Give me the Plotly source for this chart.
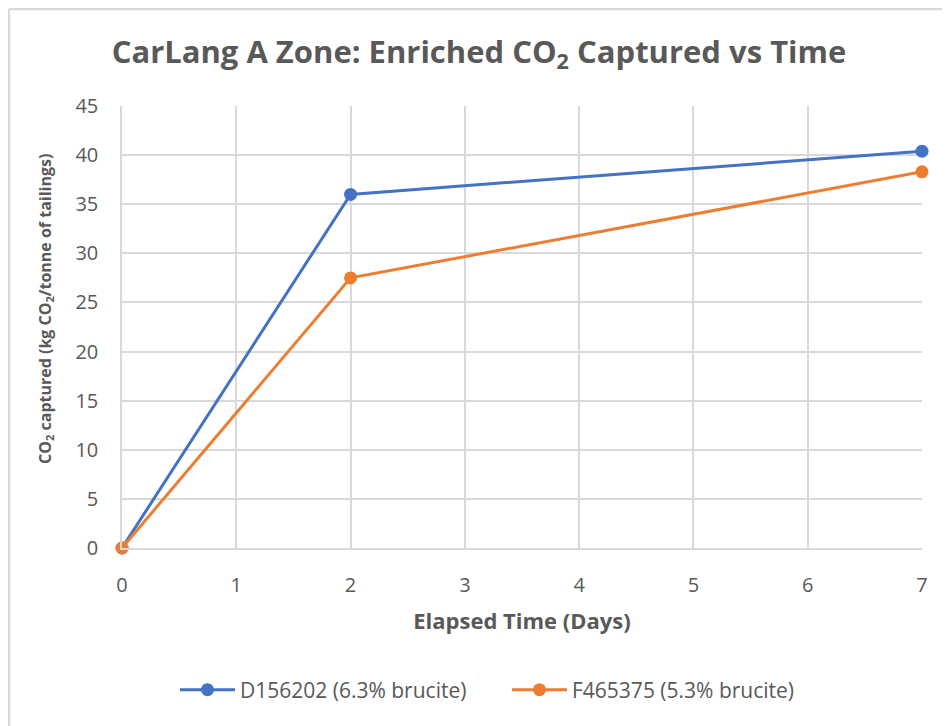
import plotly.graph_objects as go

days = [0, 2, 7]
d156202 = [0, 36.0, 40.4]
f465375 = [0, 27.5, 38.3]
series_names = ["D156202 (6.3% brucite)", "F465375 (5.3% brucite)"]
x_ticks = [0, 1, 2, 3, 4, 5, 6, 7]
y_ticks = [0, 5, 10, 15, 20, 25, 30, 35, 40, 45]

FONT = "Open Sans"
GREY = "#595959"
GRID = "#D9D9D9"

fig = go.Figure()
fig.add_trace(go.Scatter(x=days, y=d156202, mode="lines+markers", name=series_names[0],
                         line=dict(color="#4472C4", width=3), marker=dict(size=13, color="#4472C4"),
                         cliponaxis=False))
fig.add_trace(go.Scatter(x=days, y=f465375, mode="lines+markers", name=series_names[1],
                         line=dict(color="#ED7D31", width=3), marker=dict(size=13, color="#ED7D31"),
                         cliponaxis=False))

# page body adds an 8px offset, so figure is 8px smaller than the window
W, H = 942, 718
L, R, T, B = 114, 28, 98, 178
pw, ph = W - L - R, H - T - B

fig.update_layout(
    width=W, height=H,
    margin=dict(l=L, r=R, t=T, b=B, autoexpand=False),
    paper_bgcolor="white", plot_bgcolor="white",
    font=dict(family=FONT, color=GREY),
    title=dict(text="<b>CarLang A Zone: Enriched CO<sub>2</sub> Captured vs Time</b>",
               x=0.5, xanchor="center", y=1 - 44 / H, yanchor="middle",
               font=dict(size=31, family=FONT, color=GREY)),
    xaxis=dict(range=[0, 7], tickvals=x_ticks, showgrid=True, gridcolor=GRID, gridwidth=1.5,
               zeroline=False, showline=True, linecolor=GRID, linewidth=1.5,
               ticks="", ticklabelstandoff=18,
               tickfont=dict(size=20, color=GREY),
               title=dict(text="<b>Elapsed Time (Days)</b>", font=dict(size=22, color=GREY), standoff=17)),
    yaxis=dict(range=[0, 45], tickvals=y_ticks, showgrid=True, gridcolor=GRID, gridwidth=1.5,
               zeroline=False, showline=True, linecolor=GRID, linewidth=1.5,
               ticks="", ticklabelstandoff=18,
               tickfont=dict(size=20, color=GREY)),
    legend=dict(orientation="h", x=(167 - L) / pw, xanchor="left",
                y=-(682 - (H - B)) / ph, yanchor="middle",
                font=dict(size=21, color=GREY), itemwidth=55,
                entrywidth=262, entrywidthmode="pixels", traceorder="normal"),
    showlegend=True,
)

# y-axis title placed as in the reference (slightly above the plot centre)
fig.add_annotation(text="<b>CO<sub>2</sub> captured (kg CO<sub>2</sub>/tonne of tailings)</b>",
                   xref="paper", yref="paper", x=(37 - L) / pw, y=((H - B) - 301) / ph,
                   xanchor="center", yanchor="middle", textangle=-90, showarrow=False,
                   font=dict(size=16, color=GREY, family=FONT))

# outer frame (left and top edges visible in the reference)
x0 = (1 - L) / pw
y0 = (H - B - 1) / ph
fig.add_shape(type="line", xref="paper", yref="paper", x0=x0, x1=x0, y0=y0, y1=-(B + 5) / ph,
              line=dict(color=GRID, width=2.5))
fig.add_shape(type="line", xref="paper", yref="paper", x0=x0, x1=(W - L + 5) / pw, y0=y0, y1=y0,
              line=dict(color=GRID, width=2.5))

fig.write_html("out.html")
